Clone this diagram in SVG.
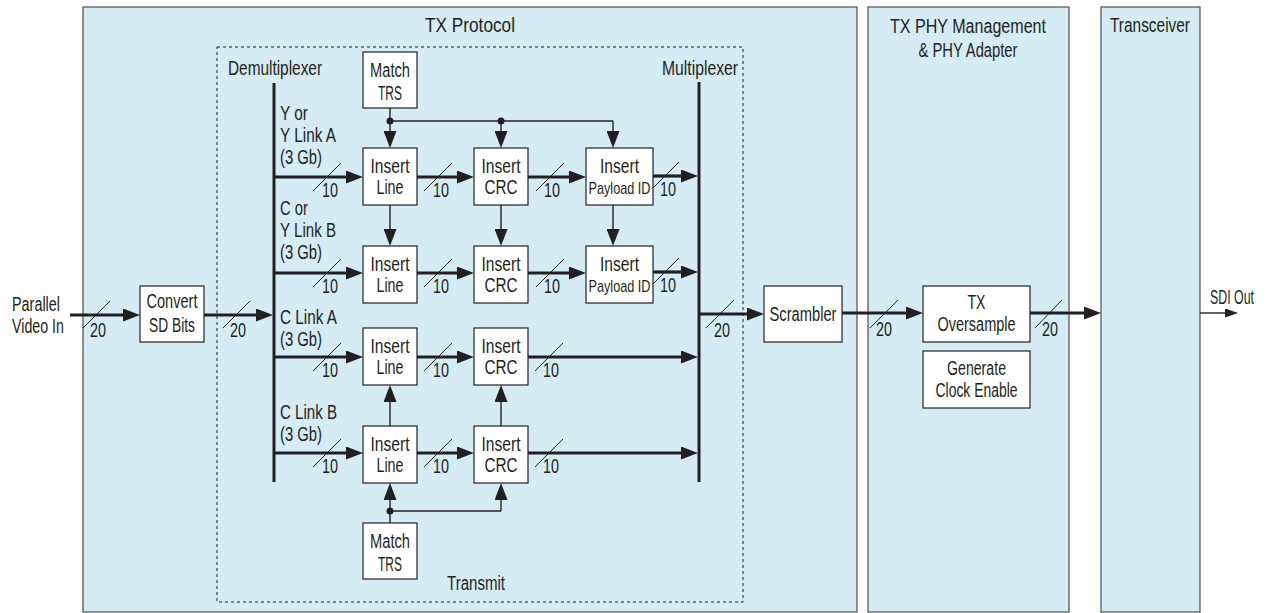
<svg xmlns="http://www.w3.org/2000/svg" width="1275" height="613" viewBox="0 0 1275 613">
<defs>
<style>
text{font-family:"Liberation Sans",Arial,sans-serif;font-size:20px;fill:#231f20}
.c{text-anchor:middle}
.e{text-anchor:end}
.sm{font-size:17px}
.tt{font-size:21px}
.panel{fill:#d6ecf5;stroke:#4d4d4d;stroke-width:1.2}
.box{fill:#fff;stroke:#231f20;stroke-width:1.2}
.thick{stroke:#231f20;stroke-width:3.2;fill:none}
.thin{stroke:#231f20;stroke-width:1.4;fill:none}
.bar{stroke:#231f20;stroke-width:3}
.sl{stroke:#231f20;stroke-width:1}
.dot{fill:#231f20}
</style>
<marker id="ah" markerUnits="userSpaceOnUse" markerWidth="18" markerHeight="13" refX="1" refY="6.5" orient="auto">
<path d="M0,0 L17,6.5 L0,13 z" fill="#231f20"/>
</marker>
<marker id="ahs" markerUnits="userSpaceOnUse" markerWidth="14" markerHeight="9" refX="1" refY="4.5" orient="auto">
<path d="M0,0 L13,4.5 L0,9 z" fill="#231f20"/>
</marker>
</defs>

<g id="panel-tx-protocol">
<rect class="panel" x="83" y="7" width="774" height="605"/>
<text class="c tt" x="470" y="32" textLength="90" lengthAdjust="spacingAndGlyphs">TX Protocol</text>
</g>
<g id="panel-phy">
<rect class="panel" x="868" y="7" width="201" height="605"/>
<text class="c" x="968" y="33" textLength="156" lengthAdjust="spacingAndGlyphs">TX PHY Management</text>
<text class="c" x="968" y="57" textLength="99" lengthAdjust="spacingAndGlyphs">&amp; PHY Adapter</text>
</g>
<g id="panel-transceiver">
<rect class="panel" x="1101" y="7" width="99" height="605"/>
<text class="c" x="1150" y="32" textLength="80" lengthAdjust="spacingAndGlyphs">Transceiver</text>
</g>

<g id="transmit">
<rect x="217" y="47" width="526" height="555" fill="none" stroke="#231f20" stroke-width="1" stroke-dasharray="3,3"/>
<text x="447" y="590" textLength="58" lengthAdjust="spacingAndGlyphs">Transmit</text>
</g>

<g id="demultiplexer">
<text x="228" y="75" textLength="94" lengthAdjust="spacingAndGlyphs">Demultiplexer</text>
<line class="bar" x1="274" y1="83" x2="274" y2="482"/>
<text x="280" y="120" textLength="28" lengthAdjust="spacingAndGlyphs">Y or</text>
<text x="280" y="142" textLength="56" lengthAdjust="spacingAndGlyphs">Y Link A</text>
<text x="280" y="164" textLength="42" lengthAdjust="spacingAndGlyphs">(3 Gb)</text>
<text x="280" y="215" textLength="28" lengthAdjust="spacingAndGlyphs">C or</text>
<text x="280" y="237" textLength="56" lengthAdjust="spacingAndGlyphs">Y Link B</text>
<text x="280" y="259" textLength="42" lengthAdjust="spacingAndGlyphs">(3 Gb)</text>
<text x="280" y="324" textLength="57" lengthAdjust="spacingAndGlyphs">C Link A</text>
<text x="280" y="346" textLength="42" lengthAdjust="spacingAndGlyphs">(3 Gb)</text>
<text x="280" y="419" textLength="57" lengthAdjust="spacingAndGlyphs">C Link B</text>
<text x="280" y="441" textLength="42" lengthAdjust="spacingAndGlyphs">(3 Gb)</text>
</g>

<g id="multiplexer">
<text class="e" x="738" y="75" textLength="76" lengthAdjust="spacingAndGlyphs">Multiplexer</text>
<line class="bar" x1="699" y1="82" x2="699" y2="482"/>
</g>

<g id="parallel-video-in">
<text x="12" y="311" textLength="48" lengthAdjust="spacingAndGlyphs">Parallel</text>
<text x="12" y="333" textLength="52" lengthAdjust="spacingAndGlyphs">Video In</text>
</g>
<g id="convert-sd-bits">
<rect class="box" x="140" y="286" width="64" height="56"/>
<text class="c" x="172" y="308" textLength="51" lengthAdjust="spacingAndGlyphs">Convert</text>
<text class="c" x="172" y="332" textLength="46" lengthAdjust="spacingAndGlyphs">SD Bits</text>
</g>
<g id="match-trs-top">
<rect class="box" x="363" y="52" width="54" height="56"/>
<text class="c" x="390" y="77" textLength="40" lengthAdjust="spacingAndGlyphs">Match</text>
<text class="c" x="390" y="100" textLength="24" lengthAdjust="spacingAndGlyphs">TRS</text>
</g>
<g id="match-trs-bottom">
<rect class="box" x="363" y="523" width="54" height="56"/>
<text class="c" x="390" y="548" textLength="40" lengthAdjust="spacingAndGlyphs">Match</text>
<text class="c" x="390" y="571" textLength="24" lengthAdjust="spacingAndGlyphs">TRS</text>
</g>

<g id="insert-line-1"><rect class="box" x="363" y="148" width="54" height="57"/><text class="c" x="390" y="173" textLength="39" lengthAdjust="spacingAndGlyphs">Insert</text><text class="c" x="390" y="194" textLength="27" lengthAdjust="spacingAndGlyphs">Line</text></g>
<g id="insert-line-2"><rect class="box" x="363" y="246" width="54" height="57"/><text class="c" x="390" y="271" textLength="39" lengthAdjust="spacingAndGlyphs">Insert</text><text class="c" x="390" y="292" textLength="27" lengthAdjust="spacingAndGlyphs">Line</text></g>
<g id="insert-line-3"><rect class="box" x="363" y="328" width="54" height="57"/><text class="c" x="390" y="353" textLength="39" lengthAdjust="spacingAndGlyphs">Insert</text><text class="c" x="390" y="374" textLength="27" lengthAdjust="spacingAndGlyphs">Line</text></g>
<g id="insert-line-4"><rect class="box" x="363" y="426" width="54" height="57"/><text class="c" x="390" y="451" textLength="39" lengthAdjust="spacingAndGlyphs">Insert</text><text class="c" x="390" y="472" textLength="27" lengthAdjust="spacingAndGlyphs">Line</text></g>

<g id="insert-crc-1"><rect class="box" x="474" y="148" width="54" height="57"/><text class="c" x="501" y="173" textLength="39" lengthAdjust="spacingAndGlyphs">Insert</text><text class="c" x="501" y="194" textLength="33" lengthAdjust="spacingAndGlyphs">CRC</text></g>
<g id="insert-crc-2"><rect class="box" x="474" y="246" width="54" height="57"/><text class="c" x="501" y="271" textLength="39" lengthAdjust="spacingAndGlyphs">Insert</text><text class="c" x="501" y="292" textLength="33" lengthAdjust="spacingAndGlyphs">CRC</text></g>
<g id="insert-crc-3"><rect class="box" x="474" y="328" width="54" height="57"/><text class="c" x="501" y="353" textLength="39" lengthAdjust="spacingAndGlyphs">Insert</text><text class="c" x="501" y="374" textLength="33" lengthAdjust="spacingAndGlyphs">CRC</text></g>
<g id="insert-crc-4"><rect class="box" x="474" y="426" width="54" height="57"/><text class="c" x="501" y="451" textLength="39" lengthAdjust="spacingAndGlyphs">Insert</text><text class="c" x="501" y="472" textLength="33" lengthAdjust="spacingAndGlyphs">CRC</text></g>

<g id="insert-payload-1"><rect class="box" x="586" y="148" width="67" height="57"/><text class="c" x="619.5" y="173" textLength="39" lengthAdjust="spacingAndGlyphs">Insert</text><text class="c sm" x="619.5" y="194" textLength="62" lengthAdjust="spacingAndGlyphs">Payload ID</text></g>
<g id="insert-payload-2"><rect class="box" x="586" y="246" width="67" height="57"/><text class="c" x="619.5" y="271" textLength="39" lengthAdjust="spacingAndGlyphs">Insert</text><text class="c sm" x="619.5" y="292" textLength="62" lengthAdjust="spacingAndGlyphs">Payload ID</text></g>

<g id="scrambler">
<rect class="box" x="764" y="286" width="78" height="56"/>
<text class="c" x="803" y="321" textLength="67" lengthAdjust="spacingAndGlyphs">Scrambler</text>
</g>
<g id="tx-oversample">
<rect class="box" x="923" y="286" width="107" height="56"/>
<text class="c" x="976.5" y="309" textLength="18" lengthAdjust="spacingAndGlyphs">TX</text>
<text class="c" x="976.5" y="331" textLength="78" lengthAdjust="spacingAndGlyphs">Oversample</text>
</g>
<g id="generate-clock-enable">
<rect class="box" x="923" y="351" width="107" height="57"/>
<text class="c" x="976.5" y="375" textLength="59" lengthAdjust="spacingAndGlyphs">Generate</text>
<text class="c" x="976.5" y="397" textLength="82" lengthAdjust="spacingAndGlyphs">Clock Enable</text>
</g>
<g id="sdi-out">
<text x="1210" y="304" textLength="44" lengthAdjust="spacingAndGlyphs">SDI Out</text>
</g>

<g id="connectors">
<!-- thick data paths -->
<line class="thick" x1="70" y1="315" x2="124" y2="315" marker-end="url(#ah)"/>
<line class="thick" x1="204" y1="315" x2="257" y2="315" marker-end="url(#ah)"/>
<line class="thick" x1="274" y1="177" x2="347" y2="177" marker-end="url(#ah)"/>
<line class="thick" x1="274" y1="273" x2="347" y2="273" marker-end="url(#ah)"/>
<line class="thick" x1="274" y1="357" x2="347" y2="357" marker-end="url(#ah)"/>
<line class="thick" x1="274" y1="453" x2="347" y2="453" marker-end="url(#ah)"/>
<line class="thick" x1="417" y1="177" x2="458" y2="177" marker-end="url(#ah)"/>
<line class="thick" x1="417" y1="273" x2="458" y2="273" marker-end="url(#ah)"/>
<line class="thick" x1="417" y1="357" x2="458" y2="357" marker-end="url(#ah)"/>
<line class="thick" x1="417" y1="453" x2="458" y2="453" marker-end="url(#ah)"/>
<line class="thick" x1="528" y1="177" x2="570" y2="177" marker-end="url(#ah)"/>
<line class="thick" x1="528" y1="273" x2="570" y2="273" marker-end="url(#ah)"/>
<line class="thick" x1="653" y1="176" x2="682" y2="176" marker-end="url(#ah)"/>
<line class="thick" x1="653" y1="272" x2="682" y2="272" marker-end="url(#ah)"/>
<line class="thick" x1="528" y1="357" x2="682" y2="357" marker-end="url(#ah)"/>
<line class="thick" x1="528" y1="453" x2="682" y2="453" marker-end="url(#ah)"/>
<line class="thick" x1="699" y1="314" x2="748" y2="314" marker-end="url(#ah)"/>
<line class="thick" x1="842" y1="313" x2="907" y2="313" marker-end="url(#ah)"/>
<line class="thick" x1="1030" y1="313" x2="1085" y2="313" marker-end="url(#ah)"/>
<line class="thin" x1="1200" y1="313" x2="1226" y2="313" stroke-width="1" marker-end="url(#ahs)"/>

<!-- control paths -->
<line class="thin" x1="390" y1="108" x2="390" y2="132" marker-end="url(#ah)"/>
<line class="thin" x1="390" y1="121" x2="613" y2="121"/>
<line class="thin" x1="501" y1="121" x2="501" y2="132" marker-end="url(#ah)"/>
<line class="thin" x1="613" y1="121" x2="613" y2="132" marker-end="url(#ah)"/>
<circle class="dot" cx="390" cy="121" r="3.5"/>
<circle class="dot" cx="501" cy="121" r="3.5"/>
<line class="thin" x1="390" y1="205" x2="390" y2="230" marker-end="url(#ah)"/>
<line class="thin" x1="501" y1="205" x2="501" y2="230" marker-end="url(#ah)"/>
<line class="thin" x1="613" y1="205" x2="613" y2="230" marker-end="url(#ah)"/>
<line class="thin" x1="390" y1="426" x2="390" y2="401" marker-end="url(#ah)"/>
<line class="thin" x1="501" y1="426" x2="501" y2="401" marker-end="url(#ah)"/>
<line class="thin" x1="390" y1="523" x2="390" y2="499" marker-end="url(#ah)"/>
<line class="thin" x1="390" y1="511" x2="501" y2="511"/>
<line class="thin" x1="501" y1="511" x2="501" y2="499" marker-end="url(#ah)"/>
<circle class="dot" cx="390" cy="511" r="3.5"/>

<!-- bus-width slashes -->
<line class="sl" x1="83" y1="328" x2="110" y2="301"/>
<line class="sl" x1="223" y1="328" x2="250" y2="301"/>
<line class="sl" x1="313" y1="191" x2="341" y2="163"/>
<line class="sl" x1="313" y1="287" x2="341" y2="259"/>
<line class="sl" x1="313" y1="371" x2="341" y2="343"/>
<line class="sl" x1="313" y1="467" x2="341" y2="439"/>
<line class="sl" x1="424" y1="191" x2="452" y2="163"/>
<line class="sl" x1="424" y1="287" x2="452" y2="259"/>
<line class="sl" x1="424" y1="371" x2="452" y2="343"/>
<line class="sl" x1="424" y1="467" x2="452" y2="439"/>
<line class="sl" x1="536" y1="191" x2="564" y2="163"/>
<line class="sl" x1="536" y1="287" x2="564" y2="259"/>
<line class="sl" x1="535" y1="371" x2="563" y2="343"/>
<line class="sl" x1="535" y1="467" x2="563" y2="439"/>
<line class="sl" x1="653" y1="188" x2="679" y2="162"/>
<line class="sl" x1="653" y1="284" x2="679" y2="258"/>
<line class="sl" x1="706" y1="328" x2="734" y2="300"/>
<line class="sl" x1="870" y1="328" x2="898" y2="300"/>
<line class="sl" x1="1035" y1="328" x2="1062" y2="300"/>

<text x="90" y="337" textLength="16" lengthAdjust="spacingAndGlyphs">20</text>
<text x="230" y="337" textLength="16" lengthAdjust="spacingAndGlyphs">20</text>
<text x="322" y="197" textLength="16" lengthAdjust="spacingAndGlyphs">10</text>
<text x="322" y="293" textLength="16" lengthAdjust="spacingAndGlyphs">10</text>
<text x="322" y="377" textLength="16" lengthAdjust="spacingAndGlyphs">10</text>
<text x="322" y="473" textLength="16" lengthAdjust="spacingAndGlyphs">10</text>
<text x="433" y="197" textLength="16" lengthAdjust="spacingAndGlyphs">10</text>
<text x="433" y="293" textLength="16" lengthAdjust="spacingAndGlyphs">10</text>
<text x="433" y="377" textLength="16" lengthAdjust="spacingAndGlyphs">10</text>
<text x="433" y="473" textLength="16" lengthAdjust="spacingAndGlyphs">10</text>
<text x="544" y="197" textLength="16" lengthAdjust="spacingAndGlyphs">10</text>
<text x="544" y="293" textLength="16" lengthAdjust="spacingAndGlyphs">10</text>
<text x="543" y="377" textLength="16" lengthAdjust="spacingAndGlyphs">10</text>
<text x="543" y="473" textLength="16" lengthAdjust="spacingAndGlyphs">10</text>
<text x="660" y="196" textLength="16" lengthAdjust="spacingAndGlyphs">10</text>
<text x="660" y="292" textLength="16" lengthAdjust="spacingAndGlyphs">10</text>
<text x="714" y="337" textLength="16" lengthAdjust="spacingAndGlyphs">20</text>
<text x="876" y="336" textLength="16" lengthAdjust="spacingAndGlyphs">20</text>
<text x="1042" y="336" textLength="16" lengthAdjust="spacingAndGlyphs">20</text>
</g>
</svg>
